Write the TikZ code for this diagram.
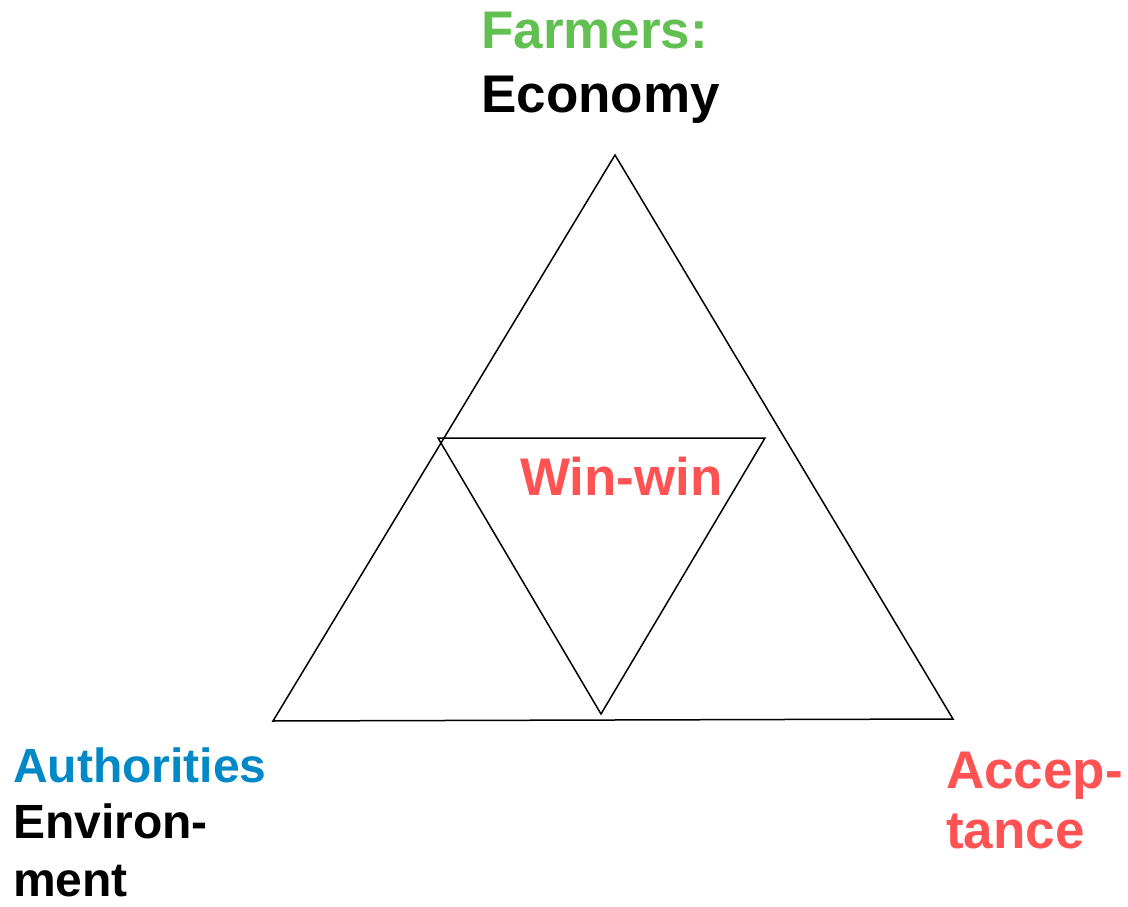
\documentclass[tikz,border=0pt]{standalone}
\usepackage{fontspec}
\setmainfont{Liberation Sans}
\definecolor{fgreen}{RGB}{98,192,82}
\definecolor{ablue}{RGB}{0,136,199}
\definecolor{wred}{RGB}{255,82,82}
\begin{document}
\begin{tikzpicture}[x=1pt,y=-1pt,
  lbl/.style={anchor=base west,inner sep=0pt,font=\bfseries\fontsize{53}{60}\selectfont},
  lbls/.style={anchor=base west,inner sep=0pt,font=\bfseries\fontsize{48}{57}\selectfont},
  tri/.style={draw=black,line width=1.5pt,line join=miter}]
\useasboundingbox (0,0) rectangle (1128,907);
% outer triangle
\coordinate (top) at (615,155);
\coordinate (bl) at (273,721);
\coordinate (br) at (953,719);
\draw[tri] (top) -- (br) -- (bl) -- cycle;
% inner triangle
\coordinate (il) at (438,438);
\coordinate (ir) at (765,438);
\coordinate (ib) at (601,714);
\draw[tri] (il) -- (ir) -- (ib) -- cycle;
% labels
\node[lbl,text=fgreen] (farm) at (481,49) {Farmers:};
\node[lbl,text=black] (econ) at (481,113) {Economy};
\node[lbl,text=wred] (win) at (520,495) {Win-win};
\node[lbls,text=ablue] (auth) at (13,782) {Authorities};
\node[lbls,text=black] (env) at (13,838) {Environ-};
\node[lbls,text=black] (ment) at (13,896) {ment};
\node[lbl,text=wred] (acc) at (946,788) {Accep-};
\node[lbl,text=wred] (tance) at (946,848) {tance};
\end{tikzpicture}
\end{document}
